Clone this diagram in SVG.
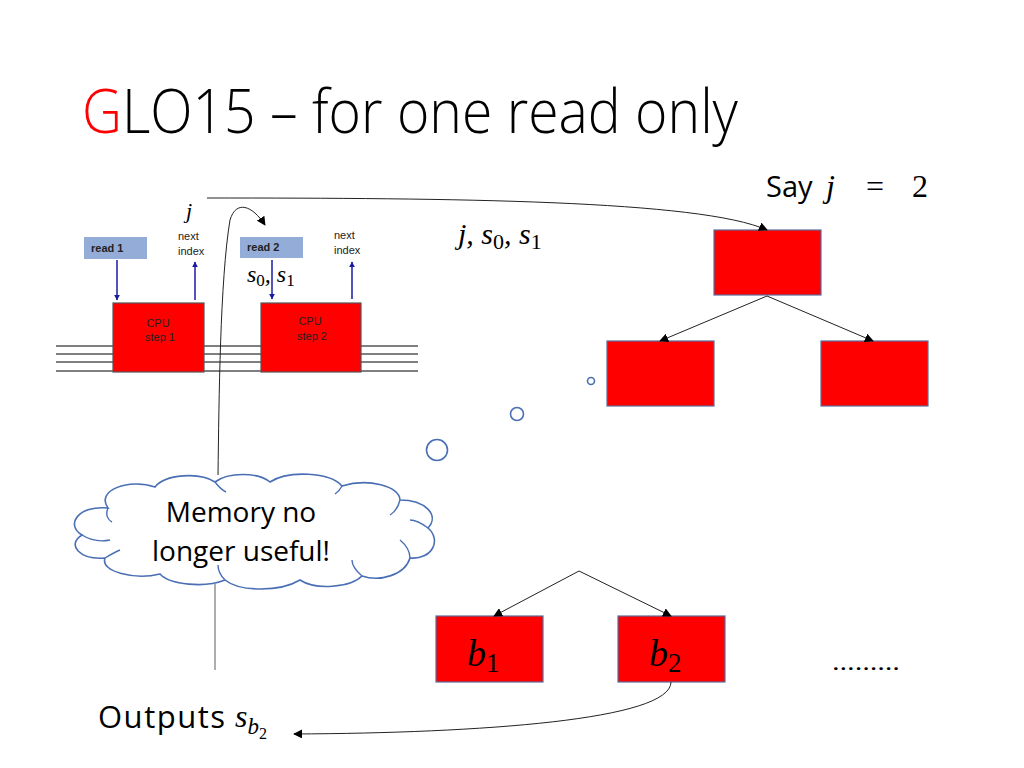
<svg xmlns="http://www.w3.org/2000/svg" width="1024" height="768" viewBox="0 0 1024 768">
<defs>
<style>
.cal{font-family:"Open Sans","Liberation Sans",sans-serif;fill:#000}
.math{font-family:"Liberation Serif","DejaVu Serif",serif;font-style:italic;fill:#000}
.mathn{font-family:"Liberation Serif","DejaVu Serif",serif;fill:#000}
.small{font-family:"Liberation Sans",Arial,sans-serif;font-size:11px;fill:#222}
.rbox{fill:#ff0000;stroke:#5b6d9b;stroke-width:1.2}
.bus{stroke:#555;stroke-width:1.3;fill:none}
.conn{stroke:#222;stroke-width:1;fill:none}
.blue{stroke:#1a1aa6;stroke-width:1.5;fill:none}
.bub{fill:none;stroke:#4a6fb5;stroke-width:1.6}
</style>
<marker id="ah" viewBox="0 0 10 10" refX="9" refY="5" markerWidth="9" markerHeight="9" markerUnits="userSpaceOnUse" orient="auto"><path d="M0,0 L10,5 L0,10 z" fill="#000"/></marker>
<marker id="bh" viewBox="0 0 10 10" refX="9" refY="5" markerWidth="6" markerHeight="6" markerUnits="userSpaceOnUse" orient="auto"><path d="M0,0 L10,5 L0,10 z" fill="#1a1aa6"/></marker>
</defs>
<rect width="1024" height="768" fill="#fff"/>

<g id="title">
<text x="82" y="133" class="cal" font-size="60" font-weight="300" textLength="656" lengthAdjust="spacingAndGlyphs"><tspan fill="#ff0000">G</tspan>LO15 – for one read only</text>
</g>

<g id="say">
<text x="766" y="197" class="cal" font-size="29">Say</text>
<text x="826" y="197" class="math" font-size="32">j</text>
<text x="866" y="197" class="mathn" font-size="32">=</text>
<text x="912" y="197" class="mathn" font-size="32">2</text>
</g>

<g id="cpu-diagram">
<line x1="56" y1="346" x2="418" y2="346" class="bus"/>
<line x1="56" y1="354" x2="418" y2="354" class="bus"/>
<line x1="56" y1="362" x2="418" y2="362" class="bus"/>
<line x1="56" y1="371" x2="418" y2="371" class="bus"/>
<g id="cpu1">
<rect x="113" y="303" width="91" height="69" fill="#ff0000" stroke="#555" stroke-width="1.2"/>
<text x="158" y="327" class="small" text-anchor="middle" fill="#333">CPU</text>
<text x="160" y="341" class="small" text-anchor="middle" fill="#333">step 1</text>
</g>
<g id="cpu2">
<rect x="261" y="303" width="100" height="69" fill="#ff0000" stroke="#555" stroke-width="1.2"/>
<text x="310" y="325" class="small" text-anchor="middle" fill="#333">CPU</text>
<text x="312" y="340" class="small" text-anchor="middle" fill="#333">step 2</text>
</g>
<g id="read1">
<rect x="84" y="237" width="63" height="22" fill="#94acd8"/>
<text x="91" y="252" class="small" font-weight="bold" fill="#1b2a4a">read 1</text>
</g>
<g id="read2">
<rect x="240" y="237" width="63" height="21" fill="#94acd8"/>
<text x="247" y="251" class="small" font-weight="bold" fill="#1b2a4a">read 2</text>
</g>
<text x="178" y="240" class="small">next</text>
<text x="178" y="255" class="small">index</text>
<text x="334" y="239" class="small">next</text>
<text x="334" y="254" class="small">index</text>
<line x1="117" y1="260" x2="117" y2="300" class="blue" marker-end="url(#bh)"/>
<line x1="195" y1="300" x2="195" y2="262" class="blue" marker-end="url(#bh)"/>
<line x1="272" y1="260" x2="272" y2="299" class="blue" marker-end="url(#bh)"/>
<line x1="352" y1="299" x2="352" y2="262" class="blue" marker-end="url(#bh)"/>
<text x="186" y="218" class="math" font-size="22">j</text>
<text x="247" y="282" class="math" font-size="24">s<tspan class="mathn" font-style="normal" font-size="17" dy="4">0</tspan><tspan dy="-4">, s</tspan><tspan class="mathn" font-style="normal" font-size="17" dy="4">1</tspan></text>
</g>

<g id="node-root"><rect x="714" y="230" width="107" height="65" class="rbox"/></g>
<g id="node-l"><rect x="607" y="341" width="107" height="65" class="rbox"/></g>
<g id="node-r"><rect x="821" y="341" width="107" height="65" class="rbox"/></g>
<g id="node-b1"><rect x="436" y="616" width="107" height="66" class="rbox"/>
<text x="467" y="666" class="math" font-size="38">b<tspan class="mathn" font-style="normal" font-size="27" dy="6">1</tspan></text></g>
<g id="node-b2"><rect x="618" y="616" width="107" height="66" class="rbox"/>
<text x="649" y="666" class="math" font-size="38">b<tspan class="mathn" font-style="normal" font-size="27" dy="6">2</tspan></text></g>

<g id="labels">
<text x="458" y="244" class="math" font-size="30">j, s<tspan class="mathn" font-style="normal" font-size="22" dy="5">0</tspan><tspan dy="-5">, s</tspan><tspan class="mathn" font-style="normal" font-size="22" dy="5">1</tspan></text>
<text x="832" y="670" class="cal" font-size="22" textLength="68" lengthAdjust="spacingAndGlyphs">………</text>
<text x="98" y="728" class="cal" font-size="31" textLength="127" lengthAdjust="spacing">Outputs</text>
<text x="235" y="727" class="math" font-size="32">s<tspan font-size="23" dy="7">b</tspan><tspan class="mathn" font-style="normal" font-size="16" dy="5">2</tspan></text>
</g>

<g id="thought-bubbles">
<circle cx="591" cy="381" r="3.5" class="bub"/>
<circle cx="517" cy="414" r="6.5" class="bub"/>
<circle cx="437" cy="450" r="10.5" class="bub"/>
</g>

<g id="cloud">
<path d="M108,508 C95,490 130,478 155,487 C165,474 200,472 215,482 C228,472 258,472 270,482 C288,470 330,472 342,486 C368,478 400,486 400,500 C425,500 440,515 428,528 C442,540 432,560 410,558 C405,575 380,582 362,576 C350,588 315,590 300,580 C280,592 240,592 225,580 C205,588 170,585 160,574 C135,580 100,572 105,558 C80,560 66,545 82,535 C65,525 78,505 108,508 Z" fill="#fff" stroke="#4a6fb5" stroke-width="1.6"/>
<path d="M108,508 C105,515 108,520 112,522 M82,535 C90,540 100,542 110,540 M105,558 C110,555 115,552 120,550 M225,580 C220,575 218,570 218,565 M362,576 C355,570 352,565 352,560 M410,558 C410,552 406,545 400,540 M428,528 C420,522 415,520 410,520 M400,500 C398,508 395,512 390,515 M342,486 C340,490 338,492 335,494 M215,482 C218,486 222,490 226,492" fill="none" stroke="#4a6fb5" stroke-width="1.4"/>
<text x="241" y="522" class="cal" font-size="28" text-anchor="middle">Memory no</text>
<text x="241" y="561" class="cal" font-size="28" text-anchor="middle">longer useful!</text>
</g>

<g id="connectors">
<path d="M207,198 C450,198 700,200 767,230" class="conn" marker-end="url(#ah)"/>
<path d="M218,475 C219,400 220,280 230,220 C236,200 252,205 265,225" class="conn" stroke="#333" marker-end="url(#ah)"/>
<line x1="215" y1="584" x2="215" y2="670" stroke="#777" stroke-width="1.2"/>
<line x1="767" y1="296" x2="660" y2="341" class="conn" marker-end="url(#ah)"/>
<line x1="767" y1="296" x2="873" y2="341" class="conn" marker-end="url(#ah)"/>
<line x1="579" y1="571" x2="494" y2="616" class="conn" marker-end="url(#ah)"/>
<line x1="579" y1="571" x2="671" y2="616" class="conn" marker-end="url(#ah)"/>
<path d="M671,682 C671,720 480,733 294,734" class="conn" marker-end="url(#ah)"/>
</g>
</svg>
